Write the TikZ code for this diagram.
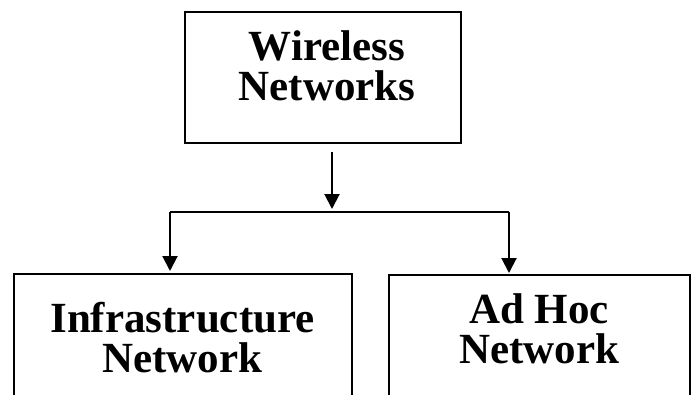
\documentclass[tikz,border=0pt]{standalone}
\usepackage{fontspec}
\setmainfont{Liberation Serif}
\usetikzlibrary{arrows.meta,calc}
\begin{document}
\begin{tikzpicture}[x=1pt,y=-1pt,
  boxstyle/.style={draw,line width=2pt,rectangle,inner sep=0pt},
  lbl/.style={inner sep=0pt,align=center,font=\fontsize{43}{40}\selectfont\bfseries},
  arr/.style={line width=2pt,-{Triangle[width=15pt,length=15pt]}},
  conn/.style={line width=2pt}]
\clip (0,0) rectangle (693,394);
\node[boxstyle,minimum width=276pt,minimum height=131pt] (top) at (323,77.5) {};
\node[lbl] (toplbl) at (327,65.3) {Wireless\\Networks};
\node[boxstyle,minimum width=338pt,minimum height=160pt,anchor=north] (left) at (183,273) {};
\node[lbl] (leftlbl) at (182.5,337.3) {Infrastructure\\Network};
\node[boxstyle,minimum width=301pt,minimum height=160pt,anchor=north] (right) at (539.5,274) {};
\node[lbl] (rightlbl) at (539,328.6) {Ad Hoc\\Network};
\coordinate (split) at (332,212);
\coordinate (L) at (170,212);
\coordinate (R) at (509,212);
\draw[arr] ($(top.south)+(9,8)$) -- ($(split)+(0,-3)$);
\draw[conn] (L) -- (R);
\draw[arr] (L) -- ($(L |- left.north)+(0,-2)$);
\draw[arr] (R) -- ($(R |- right.north)+(0,-1)$);
\end{tikzpicture}
\end{document}
